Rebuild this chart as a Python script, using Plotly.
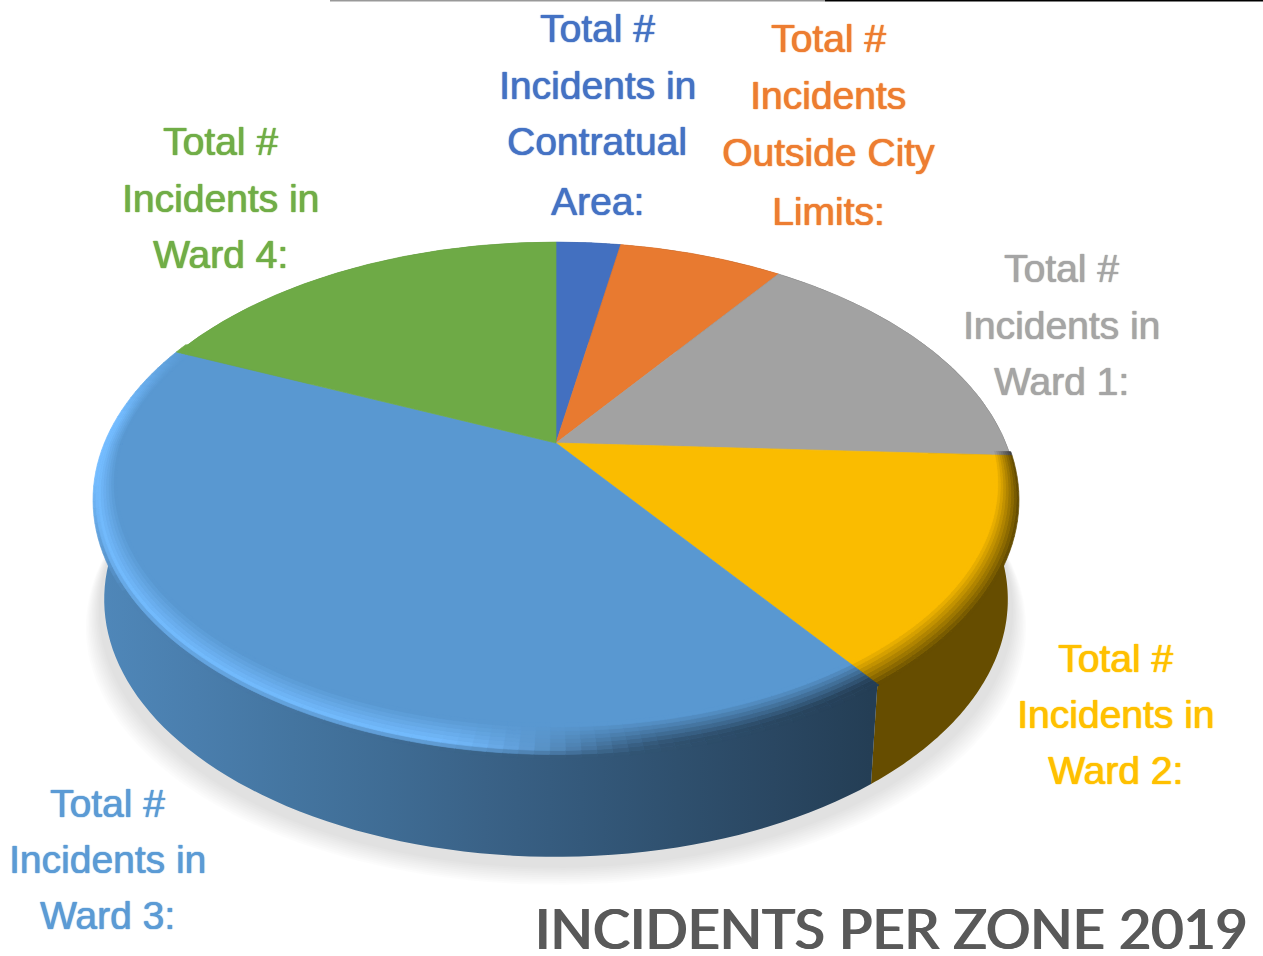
import numpy as np
import plotly.graph_objects as go

categories = ["Contratual Area", "Outside City Limits", "Ward 1", "Ward 2", "Ward 3", "Ward 4"]
shares = [2.8, 7.1, 15.9, 14.2, 41.6, 18.4]
colors = ["#4472C4", "#ED7D31", "#A5A5A5", "#FFC000", "#5B9BD5", "#70AD47"]
label_lines = [
    ["Total #", "Incidents in", "Contratual", "Area:"],
    ["Total #", "Incidents", "Outside City", "Limits:"],
    ["Total #", "Incidents in", "Ward 1:"],
    ["Total #", "Incidents in", "Ward 2:"],
    ["Total #", "Incidents in", "Ward 3:"],
    ["Total #", "Incidents in", "Ward 4:"],
]
title_text = "INCIDENTS PER ZONE 2019"

# label layout (pixel-space axes)
label_x = [597, 828, 1061, 1115, 107, 220]
label_y = [[28, 85, 141, 201], [38, 95, 152, 211], [268, 325, 381],
           [658, 714, 770], [803, 859, 915], [141, 198, 254]]
FONT = "Liberation Sans, sans-serif"
LABEL_SIZE = 39

# perspective pie projection
CX, CY = 556, 443
A, B, K = 449.8, 245.0, 0.2194
WALL_H, BASE_S = 100, 0.98


def project(theta, r=1.0, scale=1.0, dy=0.0):
    X, Y = r * np.sin(theta), r * np.cos(theta)
    w = 1 + K * Y
    return CX + scale * A * X / w, CY - B * Y / w + dy


def rgb(hexcol):
    return np.array([int(hexcol[i:i + 2], 16) for i in (1, 3, 5)], float)


def css(c):
    c = np.clip(c, 0, 255).round().astype(int)
    return f"rgb({c[0]},{c[1]},{c[2]})"


def shade_at(x):
    return 0.87 - 0.47 * np.clip((x - 100) / 770, 0, 1)


fig = go.Figure()


def poly(xs, ys, color):
    fig.add_trace(go.Scatter(x=xs, y=ys, mode="lines", fill="toself", fillcolor=color,
                             line=dict(width=0.7, color=color), hoverinfo="skip", showlegend=False))


# soft shadow below the pie
full = np.linspace(0, 2 * np.pi, 240)
for t in np.linspace(1, 0.3, 10):
    sx, sy = project(full, scale=BASE_S + 0.04 * t, dy=WALL_H + 4 + 24 * t)
    fig.add_trace(go.Scatter(x=sx, y=sy, mode="lines", fill="toself", fillcolor="rgba(0,0,0,0.0118)",
                             line=dict(width=0), hoverinfo="skip", showlegend=False))

edges = np.cumsum([0] + shares) / sum(shares) * 2 * np.pi

# walls: ruled quads between the top rim and the base rim
for i, col in enumerate(colors):
    th = np.linspace(edges[i], edges[i + 1], 90)
    tx, ty = project(th)
    bx, by = project(th, scale=BASE_S, dy=WALL_H)
    qx, qy = [], []
    for k in range(len(th) - 1):
        qx += [tx[k], tx[k + 1], bx[k + 1], bx[k], tx[k], None]
        qy += [ty[k], ty[k + 1], by[k + 1], by[k], ty[k], None]
    base = rgb(col)
    fig.add_trace(go.Scatter(
        x=qx, y=qy, mode="lines", fill="toself",
        line=dict(width=0), hoverinfo="skip", showlegend=False,
        fillgradient=dict(type="horizontal", start=100, stop=870,
                          colorscale=[[f, css(base * (0.87 - 0.47 * f))] for f in np.linspace(0, 1, 9)]),
    ))

# top faces
FACE = 0.98
for i, col in enumerate(colors):
    th = np.linspace(edges[i], edges[i + 1], 120)
    x, y = project(th)
    poly(np.r_[CX, x, CX], np.r_[CY, y, CY], css(rgb(col) * FACE))

# bevel on the front rim
N_LEVELS = 10
for i, col in enumerate(colors):
    lo, hi = edges[i], edges[i + 1]
    lo2, hi2 = max(lo, np.radians(92)), min(hi, np.radians(296))
    if hi2 <= lo2:
        continue
    base = rgb(col) * FACE
    hl = rgb("#74BCFF") if col == "#5B9BD5" else base
    n = int(np.degrees(hi2 - lo2) / 1.6) + 1
    grid = np.linspace(lo2, hi2, n + 1)
    for a0, a1 in zip(grid[:-1], grid[1:]):
        mid = (a0 + a1) / 2
        mx, _ = project(mid)
        wall = rgb(col) * shade_at(mx)
        m = np.clip((mx - 420) / 260, 0, 1)
        m = m * m * (3 - 2 * m)
        outer = hl * (1 - m) + wall * m
        edge_fade = np.clip((np.radians(296) - mid) / np.radians(20), 0, 1)
        fringe = np.clip((np.radians(262) - mid) / np.radians(25), 0, 1)
        arc = np.linspace(a0, a1, 3)
        width = 0.04 + 0.05 * np.maximum(0, -np.cos(arc))
        for j in range(N_LEVELS - 1):
            u = j / (N_LEVELS - 2)
            if col == "#5B9BD5":
                crest = 0.2
                edgecol = wall * fringe + outer * (1 - fringe)
                if u < crest:
                    c = edgecol * (1 - u / crest) + outer * (u / crest)
                else:
                    v = (u - crest) / (1 - crest)
                    c = outer * (1 - v) + base * v
            else:
                c = outer * (1 - u) + base * u
            c = c * edge_fade + base * (1 - edge_fade)
            r0 = 1.004 - width * j / (N_LEVELS - 1)
            r1 = 1.004 - width * (j + 1) / (N_LEVELS - 1)
            x0, y0 = project(arc, r=r0)
            x1, y1 = project(arc, r=r1)
            poly(np.r_[x0, x1[::-1], x0[0]], np.r_[y0, y1[::-1], y0[0]], css(c))

annotations = []
for lines, lx, ys, col in zip(label_lines, label_x, label_y, colors):
    for line, ly in zip(lines, ys):
        annotations.append(dict(x=lx, y=ly, text=line, showarrow=False, xref="x", yref="y",
                                font=dict(family=FONT, size=LABEL_SIZE, color=col,
                                          shadow=f"0 0 1px {col}, 0.4px 0 1px {col}"),
                                xanchor="center", yanchor="middle"))
annotations.append(dict(x=891, y=927, text=title_text, showarrow=False, xref="x", yref="y",
                        font=dict(family="Lato, sans-serif", size=55.5, color="#595959",
                                  shadow="1px 0 0.6px #595959, -1px 0 0.6px #595959"),
                        xanchor="center", yanchor="middle"))

fig.update_layout(
    width=1263, height=956, margin=dict(l=0, r=0, t=0, b=0),
    paper_bgcolor="white", plot_bgcolor="white", showlegend=False,
    xaxis=dict(range=[0, 1263], visible=False, fixedrange=True),
    yaxis=dict(range=[956, 0], visible=False, fixedrange=True),
    annotations=annotations,
    shapes=[
        dict(type="line", xref="x", yref="y", x0=330, x1=825, y0=0.8, y1=0.8, line=dict(color="#999999", width=1.5)),
        dict(type="line", xref="x", yref="y", x0=825, x1=1263, y0=0.8, y1=0.8, line=dict(color="#000000", width=1.5)),
    ],
)
fig.write_html("out.html", config={"displayModeBar": False},
               post_script="document.body.style.margin='0';")
